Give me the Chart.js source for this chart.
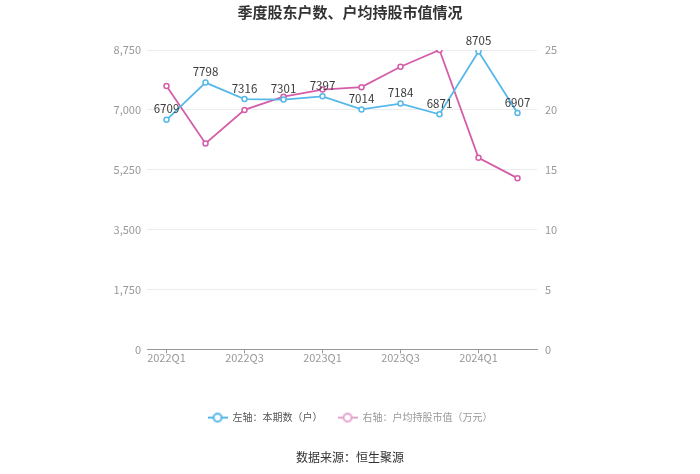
<!DOCTYPE html>
<html>
<head>
<meta charset="utf-8">
<script src="https://cdn.jsdelivr.net/npm/chart.js@4/dist/chart.umd.min.js"></script>
<style>
  html, body { margin: 0; padding: 0; background: #fff; }
  #wrap { width: 700px; height: 474px; position: relative; }
</style>
</head>
<body>
<div id="wrap"><canvas id="chart" width="700" height="474"></canvas></div>
<script>
// Chart data
const quarters = ['2022Q1', '2022Q2', '2022Q3', '2022Q4', '2023Q1', '2023Q2', '2023Q3', '2023Q4', '2024Q1', '2024Q2'];
const holders = [6709, 7798, 7316, 7301, 7397, 7014, 7184, 6871, 8705, 6907];
const avgValue = [22.0, 17.2, 20.0, 21.1, 21.7, 21.9, 23.6, 25.0, 16.0, 14.3];
const leftTicks = [0, 1750, 3500, 5250, 7000, 8750];
const rightTicks = [0, 5, 10, 15, 20, 25];

const blue = '#56b8ea';
const pink = '#d45ea8';
const fontFamily = '"Noto Sans CJK SC", "Noto Sans", sans-serif';

// Legend marker: short line with a hollow circle
function makeMarker(color) {
  const c = document.createElement('canvas');
  c.width = 20;
  c.height = 12;
  const g = c.getContext('2d');
  g.strokeStyle = color;
  g.lineWidth = 2;
  g.beginPath();
  g.moveTo(0, 6);
  g.lineTo(20, 6);
  g.stroke();
  g.fillStyle = '#fff';
  g.beginPath();
  g.arc(10, 6, 4, 0, Math.PI * 2);
  g.fill();
  g.stroke();
  return c;
}

// Value labels above the blue points
const valueLabels = {
  id: 'valueLabels',
  afterDatasetsDraw(chart) {
    const ctx = chart.ctx;
    const meta = chart.getDatasetMeta(0);
    ctx.save();
    ctx.font = '11.5px ' + fontFamily;
    ctx.fillStyle = '#3a3a3a';
    ctx.textAlign = 'center';
    ctx.textBaseline = 'bottom';
    meta.data.forEach((pt, i) => {
      ctx.fillText(String(holders[i]), pt.x, pt.y - 5);
    });
    ctx.restore();
  }
};

new Chart(document.getElementById('chart'), {
  type: 'line',
  data: {
    labels: quarters,
    datasets: [
      {
        label: '左轴：本期数（户）',
        data: holders,
        yAxisID: 'y',
        borderColor: blue,
        borderWidth: 1.8,
        pointRadius: 2.5,
        pointBorderWidth: 1.5,
        pointBackgroundColor: '#fff',
        tension: 0
      },
      {
        label: '右轴：户均持股市值（万元）',
        data: avgValue,
        yAxisID: 'y1',
        borderColor: pink,
        borderWidth: 1.8,
        pointRadius: 2.5,
        pointBorderWidth: 1.5,
        pointBackgroundColor: '#fff',
        tension: 0
      }
    ]
  },
  options: {
    responsive: false,
    animation: false,
    layout: { padding: { top: 0, bottom: 9, left: 0, right: 0 } },
    scales: {
      x: {
        offset: true,
        afterFit(scale) { scale.height += 35; },
        grid: { drawOnChartArea: false, drawTicks: true, tickLength: 4, color: '#999' },
        border: { display: true, color: '#999' },
        ticks: { autoSkip: true, maxTicksLimit: 5, maxRotation: 0, color: '#999', padding: -2, font: { size: 11, family: fontFamily } }
      },
      y: {
        position: 'left',
        min: 0,
        max: 8750,
        afterBuildTicks(scale) { scale.ticks = leftTicks.map(v => ({ value: v })); },
        afterFit(scale) { scale.width = 147; },
        grid: { color: '#ececec', drawTicks: false },
        border: { display: false },
        ticks: {
          color: '#999',
          padding: 6,
          font: { size: 11, family: fontFamily },
          callback: v => v.toLocaleString('en-US')
        }
      },
      y1: {
        position: 'right',
        min: 0,
        max: 25,
        afterBuildTicks(scale) { scale.ticks = rightTicks.map(v => ({ value: v })); },
        afterFit(scale) { scale.width = 163; },
        grid: { display: false, drawTicks: false },
        border: { display: false },
        ticks: { color: '#999', padding: 8, font: { size: 11, family: fontFamily } }
      }
    },
    plugins: {
      title: {
        display: true,
        text: '季度股东户数、户均持股市值情况',
        color: '#333',
        font: { size: 15, weight: 'bold', family: fontFamily },
        padding: { top: 3, bottom: 29 }
      },
      subtitle: {
        display: true,
        position: 'bottom',
        text: '数据来源：恒生聚源',
        color: '#333',
        font: { size: 12, family: fontFamily },
        padding: { top: 18, bottom: 0 }
      },
      legend: {
        position: 'bottom',
        labels: {
          padding: 15,
          boxHeight: 12,
          boxWidth: 20,
          pointStyleWidth: 20,
          usePointStyle: true,
          font: { size: 10, family: fontFamily },
          generateLabels(chart) {
            return chart.data.datasets.map((ds, i) => ({
              text: ds.label,
              datasetIndex: i,
              pointStyle: makeMarker(i === 0 ? blue : '#e6a3cf'),
              fontColor: i === 0 ? '#555' : '#999',
              hidden: false,
              lineWidth: 0,
              strokeStyle: 'transparent',
              fillStyle: 'transparent'
            }));
          }
        }
      },
      tooltip: { enabled: false }
    }
  },
  plugins: [valueLabels]
});
</script>
</body>
</html>
